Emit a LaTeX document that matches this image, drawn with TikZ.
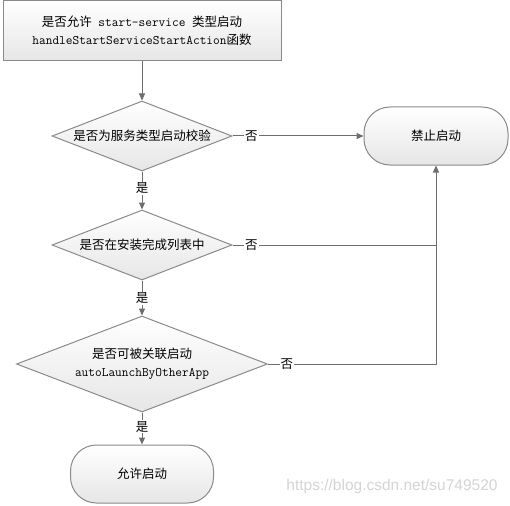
\documentclass[tikz,border=0pt]{standalone}
\usepackage{fontspec}
\newfontfamily\cjkf{Noto Sans CJK SC}
\newfontfamily\wmf{Liberation Sans}
\usetikzlibrary{shapes.geometric,arrows.meta}
\newcommand\zh[1]{{\cjkf #1}}
\newcommand\mn[1]{{\ttfamily\fontsize{13}{18}\selectfont #1}}
\definecolor{bordergray}{HTML}{8A8A8A}
\definecolor{fillgray}{HTML}{E6E6E6}
\definecolor{linegray}{HTML}{6E6E6E}
\definecolor{wmgray}{HTML}{D4D4D4}
\begin{document}
\begin{tikzpicture}[x=1pt,y=-1pt,
  shapebase/.style={draw=bordergray, line width=1pt, top color=white, bottom color=fillgray,
    font=\fontsize{12.5}{18}\selectfont\cjkf, align=center, inner sep=0pt, text=black},
  procbox/.style={shapebase, rectangle, minimum width=278pt, minimum height=60pt},
  decbox/.style={shapebase, diamond},
  termbox/.style={shapebase, rectangle, rounded corners=26pt},
  conn/.style={draw=linegray, line width=1pt},
  arr/.style={conn, -{Triangle[length=7pt,width=6pt]}},
  lbl/.style={fill=white, inner sep=1pt, font=\fontsize{12.5}{14}\selectfont\cjkf, text=black}
]
\useasboundingbox (0,0) rectangle (510,505);

\node[procbox] (top) at (142,31) {\zh{是否允许}\mn{ start-service }\zh{类型启动}\\\mn{handleStartServiceStartAction}\zh{函数}};
\node[decbox, minimum width=180pt, minimum height=70pt, aspect=2.57] (d1) at (142,136) {是否为服务类型启动校验};
\node[termbox, minimum width=144pt, minimum height=58pt] (stop) at (436,136) {禁止启动};
\node[decbox, minimum width=180pt, minimum height=70pt, aspect=2.57] (d2) at (142,245) {是否在安装完成列表中};
\node[decbox, minimum width=251pt, minimum height=96pt, aspect=2.6] (d3) at (142,364) {是否可被关联启动\\\mn{autoLaunchByOtherApp}};
\node[termbox, minimum width=143pt, minimum height=58pt] (allow) at (142,474) {允许启动};

\coordinate (j2) at (436,245);
\coordinate (j3) at (436,364);

\draw[arr] (top.south) -- (d1.north);
\draw[arr] (d1.east) -- node[lbl,pos=0.144]{否} (stop.west);
\draw[arr] (d1.south) -- node[lbl,pos=0.44]{是} (d2.north);
\draw[conn] (d2.east) -- node[lbl,pos=0.093]{否} (j2);
\draw[arr] (d2.south) -- node[lbl,pos=0.5]{是} (d3.north);
\draw[conn] (d3.east) -- node[lbl,pos=0.113]{否} (j3) -- (j2);
\draw[arr] (j2) -- (stop.south);
\draw[arr] (d3.south) -- node[lbl,pos=0.45]{是} (allow.north);

\node[text=wmgray, font=\fontsize{15.5}{18}\selectfont\wmf, inner sep=0pt] (wm) at (392,486) {https://blog.csdn.net/su749520};
\end{tikzpicture}
\end{document}
